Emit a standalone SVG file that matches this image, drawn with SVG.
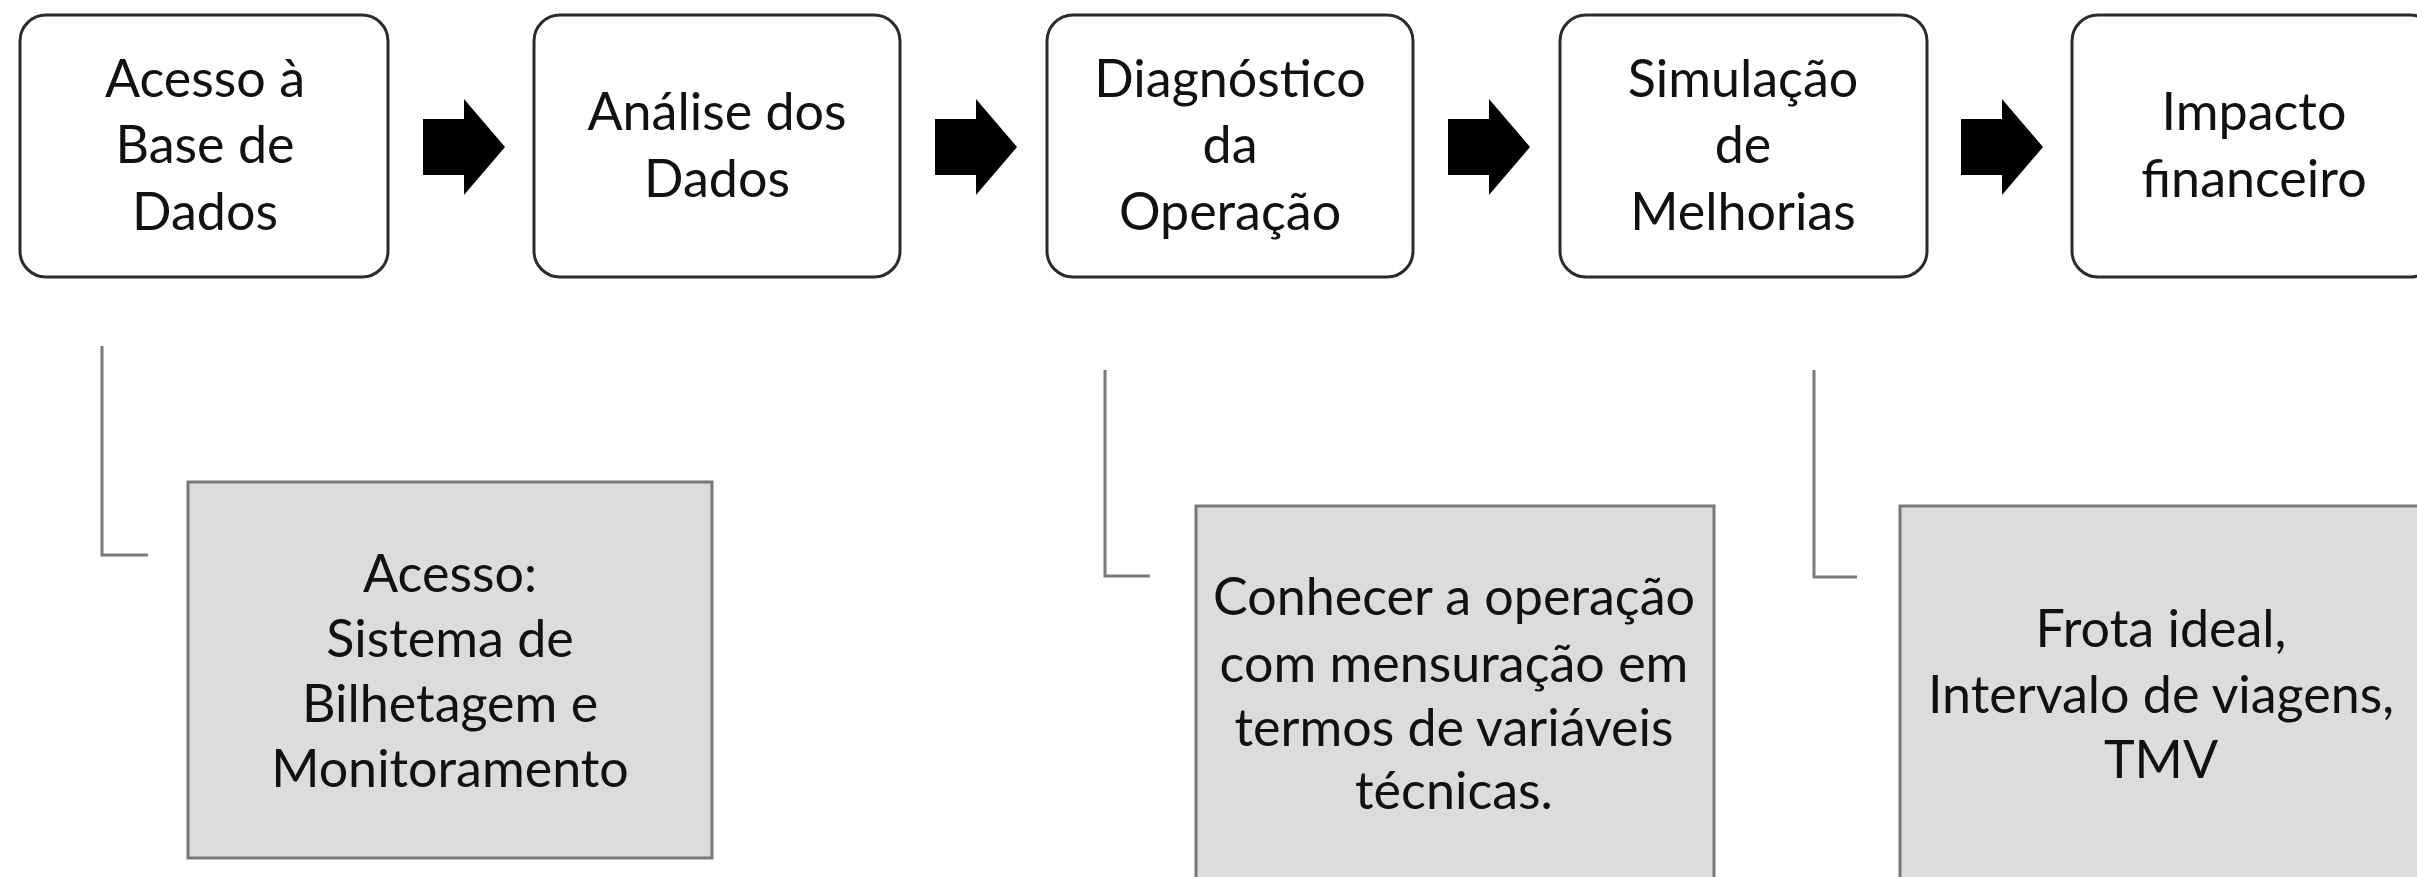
<svg xmlns="http://www.w3.org/2000/svg" width="2417" height="877" viewBox="0 0 2417 877">
<style>
.step{fill:#ffffff;stroke:#2b2b2b;stroke-width:3}
.note{fill:#dcdcdc;stroke:#787878;stroke-width:3}
.t{font-family:Lato,"Liberation Sans",sans-serif;font-size:52px;fill:#111;text-anchor:middle}
.lead{fill:none;stroke:#7a7a7a;stroke-width:3}
.arr{fill:#000}
</style>
<rect width="2417" height="877" fill="#ffffff"/>
<g id="n1"><rect class="step" x="20" y="15" width="368" height="262" rx="26"/>
<text class="t" x="205" y="97">Acesso à</text><text class="t" x="205" y="163">Base de</text><text class="t" x="205" y="230">Dados</text></g>
<g id="n2"><rect class="step" x="534" y="15" width="366" height="262" rx="26"/>
<text class="t" x="717" y="130">Análise dos</text><text class="t" x="717" y="197">Dados</text></g>
<g id="n3"><rect class="step" x="1047" y="15" width="366" height="262" rx="26"/>
<text class="t" x="1230" y="97">Diagnóstico</text><text class="t" x="1230" y="163">da</text><text class="t" x="1230" y="230">Operação</text></g>
<g id="n4"><rect class="step" x="1560" y="15" width="367" height="262" rx="26"/>
<text class="t" x="1743" y="97">Simulação</text><text class="t" x="1743" y="163">de</text><text class="t" x="1743" y="230">Melhorias</text></g>
<g id="n5"><rect class="step" x="2072" y="15" width="364" height="262" rx="26"/>
<text class="t" x="2254" y="130">Impacto</text><text class="t" x="2254" y="197">financeiro</text></g>
<g id="a"><rect class="note" x="188" y="482" width="524" height="376"/>
<text class="t" x="450" y="592">Acesso:</text><text class="t" x="450" y="657">Sistema de</text><text class="t" x="450" y="722">Bilhetagem e</text><text class="t" x="450" y="787">Monitoramento</text></g>
<g id="b"><rect class="note" x="1196" y="506" width="518" height="380"/>
<text class="t" x="1454" y="615">Conhecer a operação</text><text class="t" x="1454" y="682">com mensuração em</text><text class="t" x="1454" y="746">termos de variáveis</text><text class="t" x="1454" y="809">técnicas.</text></g>
<g id="c"><rect class="note" x="1900" y="506" width="530" height="380"/>
<text class="t" x="2161" y="647">Frota ideal,</text><text class="t" x="2161" y="713">Intervalo de viagens,</text><text class="t" x="2161" y="778">TMV</text></g>
<g id="connectors">
<polygon class="arr" points="423,119 464,119 464,99 505,147 464,195 464,175 423,175"/>
<polygon class="arr" points="935,119 976,119 976,99 1017,147 976,195 976,175 935,175"/>
<polygon class="arr" points="1448,119 1489,119 1489,99 1530,147 1489,195 1489,175 1448,175"/>
<polygon class="arr" points="1961,119 2002,119 2002,99 2043,147 2002,195 2002,175 1961,175"/>
<polyline class="lead" points="102,346 102,555 148,555"/>
<polyline class="lead" points="1105,370 1105,576 1150,576"/>
<polyline class="lead" points="1814,370 1814,577 1857,577"/>
</g>
</svg>
